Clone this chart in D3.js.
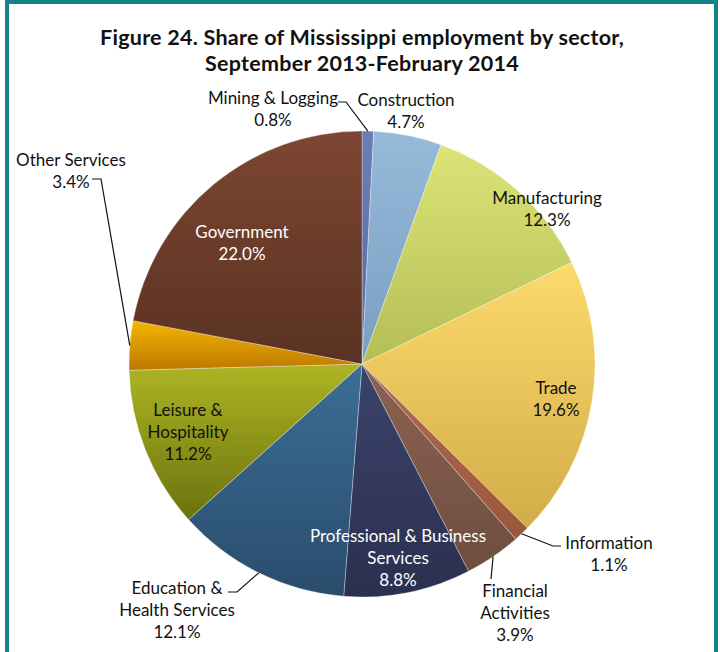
<!DOCTYPE html>
<html>
<head>
<meta charset="utf-8">
<title>Share of Mississippi employment by sector</title>
<script src="https://cdn.jsdelivr.net/npm/d3@7"></script>
<style type="text/css">
  body { margin: 0; background: #fff; }
  text { font-family: Lato, "Open Sans", sans-serif; }
</style>
</head>
<body>
<script type="text/javascript">

// sectors, clockwise from 12 o'clock
var sectors = ["Mining & Logging", "Construction", "Manufacturing", "Trade", "Information",
  "Financial Activities", "Professional & Business Services", "Education & Health Services",
  "Leisure & Hospitality", "Other Services", "Government"];
var shares = [0.8, 4.7, 12.3, 19.6, 1.1, 3.9, 8.8, 12.1, 11.2, 3.4, 22.0];
// light (top) / dark (bottom) of each slice gradient
var topColors = ["#6d7db4", "#96bada", "#dce476", "#fdda6c", "#b26a52", "#8c6252",
  "#3c436c", "#3b6e96", "#adb524", "#f6b600", "#7c4632"];
var bottomColors = ["#5e6c9c", "#7b9ec0", "#b4be56", "#d2ac48", "#98583e", "#6e4e40",
  "#2a304e", "#2a4c6c", "#6c720e", "#bc7800", "#5a3222"];

var w = 720, h = 652;
var cx = 362, cy = 364, r = 233;

// label layout: centre x, first baseline, text colour, leader path (arc point is added in front)
var layout = {
  "Mining & Logging":               { lines: ["Mining & Logging", "0.8%"], x: 273, y: 104, fill: "#111", leader: [[346, 102], [338, 102]] },
  "Construction":                   { lines: ["Construction", "4.7%"], x: 406, y: 106, fill: "#111" },
  "Manufacturing":                  { lines: ["Manufacturing", "12.3%"], x: 547, y: 204, fill: "#111" },
  "Trade":                          { lines: ["Trade", "19.6%"], x: 556, y: 394, fill: "#111" },
  "Information":                    { lines: ["Information", "1.1%"], x: 609, y: 549, fill: "#111", leader: [[553, 546], [561, 546]] },
  "Financial Activities":           { lines: ["Financial", "Activities", "3.9%"], x: 515, y: 597, fill: "#111", leader: [[491, 579]] },
  "Professional & Business Services": { lines: ["Professional & Business", "Services", "8.8%"], x: 398, y: 542, fill: "#fff" },
  "Education & Health Services":    { lines: ["Education &", "Health Services", "12.1%"], x: 177, y: 594, fill: "#111", leader: [[237, 592], [228, 592]] },
  "Leisure & Hospitality":          { lines: ["Leisure &", "Hospitality", "11.2%"], x: 188, y: 416, fill: "#111" },
  "Other Services":                 { lines: ["Other Services", "3.4%"], x: 71, y: 166, fill: "#111", leader: [[101, 179], [92, 179]] },
  "Government":                     { lines: ["Government", "22.0%"], x: 242, y: 238, fill: "#fff" }
};
var lineHeight = 22;
var titleLines = ["Figure 24. Share of Mississippi employment by sector,", "September 2013-February 2014"];

var svg = d3.select("body")
  .append("svg")
  .attr("width", w)
  .attr("height", h);

// frame
svg.append("rect")
  .attr("x", 7).attr("y", 2)
  .attr("width", 709).attr("height", h + 10)
  .attr("fill", "none")
  .attr("stroke", "#128487")
  .attr("stroke-width", 4);

// title
titleLines.forEach(function(line, i) {
  svg.append("text")
    .attr("x", cx)
    .attr("y", 45 + i * 26)
    .attr("text-anchor", "middle")
    .attr("font-size", 21.5).attr("font-weight", "bold")
    .attr("letter-spacing", 0.25)
    .attr("fill", "#111")
    .text(line);
});

var dataset = sectors.map(function(s, i) {
  return { name: s, value: shares[i], c0: topColors[i], c1: bottomColors[i] };
});

var pie = d3.pie().sort(null).value(function(d) { return d.value; });
var arc = d3.arc().innerRadius(0).outerRadius(r);
var arcs = pie(dataset);

var defs = svg.append("defs");
var grads = defs.selectAll("linearGradient")
  .data(arcs)
  .enter()
  .append("linearGradient")
  .attr("id", function(d, i) { return "g" + i; })
  .attr("x1", 0).attr("y1", 0).attr("x2", 0).attr("y2", 1);
grads.append("stop").attr("offset", 0).attr("stop-color", function(d) { return d.data.c0; });
grads.append("stop").attr("offset", 1).attr("stop-color", function(d) { return d.data.c1; });

var g = svg.append("g").attr("transform", "translate(" + cx + "," + cy + ")");

g.selectAll("path")
  .data(arcs)
  .enter()
  .append("path")
  .attr("d", arc)
  .attr("fill", function(d, i) { return "url(#g" + i + ")"; })
  .attr("stroke", "rgba(255,255,255,0.45)")
  .attr("stroke-width", 0.7);

// leader lines
arcs.forEach(function(d) {
  var lay = layout[d.data.name];
  if (!lay.leader) return;
  var a = (d.startAngle + d.endAngle) / 2;
  var pts = [[cx + r * Math.sin(a), cy - r * Math.cos(a)]].concat(lay.leader);
  svg.append("path")
    .attr("d", d3.line()(pts))
    .attr("fill", "none")
    .attr("stroke", "#111")
    .attr("stroke-width", 1.2);
});

// labels
arcs.forEach(function(d) {
  var lay = layout[d.data.name];
  var t = svg.append("text")
    .attr("text-anchor", "middle")
    .attr("font-size", 17)
    .attr("fill", lay.fill);
  lay.lines.forEach(function(line, k) {
    t.append("tspan")
      .attr("x", lay.x)
      .attr("y", lay.y + k * lineHeight)
      .text(line);
  });
});

</script>
</body>
</html>
